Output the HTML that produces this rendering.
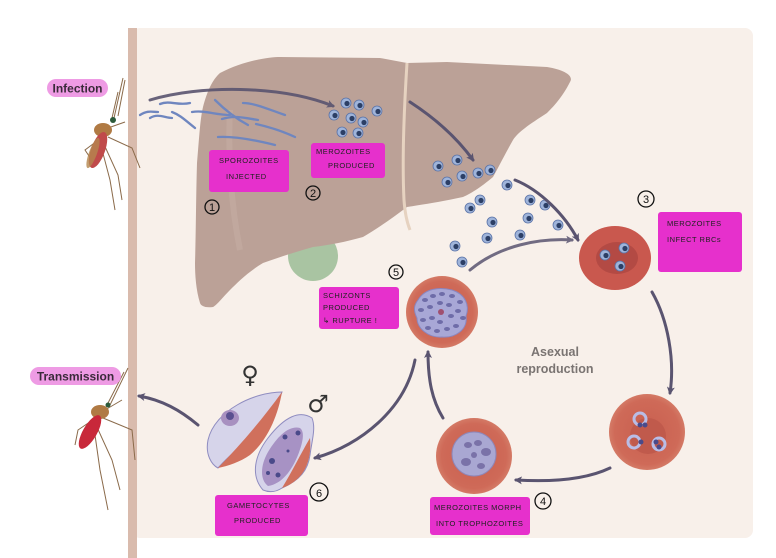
<!DOCTYPE html>
<html><head><meta charset="utf-8"><style>
html,body{margin:0;padding:0;background:#fff;}
svg{display:block;}
.lb{font-family:"Liberation Sans",sans-serif;font-size:7.5px;fill:#222;letter-spacing:0.5px;}
.nm{font-family:"Liberation Sans",sans-serif;font-size:11px;fill:#111;text-anchor:middle;}
</style></head><body>
<svg width="776" height="558" viewBox="0 0 776 558" xmlns="http://www.w3.org/2000/svg">
<defs>
<marker id="ah" markerWidth="8" markerHeight="8" refX="6" refY="4" orient="auto" markerUnits="userSpaceOnUse"><path d="M0,0 L8,4 L0,8 L2,4 Z" fill="#5a5470"/></marker>
<radialGradient id="rbc" cx="50%" cy="50%" r="50%"><stop offset="0" stop-color="#c85f4f"/><stop offset="0.85" stop-color="#cf6a58"/><stop offset="1" stop-color="#d47a66"/></radialGradient>
<g id="mz"><circle r="5" fill="#9fb4da" stroke="#5a73a8" stroke-width="0.8"/><circle cx="1" cy="0.5" r="2.6" fill="#2c3f66"/></g>
</defs>
<rect x="0" y="0" width="776" height="558" fill="#fff"/>
<rect x="132" y="28" width="621" height="510" rx="8" fill="#f8f0ea"/>
<rect x="128" y="28" width="9" height="530" fill="#d9bbad"/>

<!-- liver -->
<circle cx="313" cy="256" r="25" fill="#a9c4a2"/>
<path d="M220,73 C245,60 270,57 280,57 L380,58 L407,63 L447,62 L547,67 C565,70 574,76 570,82 C562,98 552,108 547,113 C530,124 518,132 513,140 C504,156 498,168 493,177 C480,188 470,194 463,197 C440,202 420,205 407,207 C390,220 375,230 363,237 C345,242 330,245 313,247 C295,252 280,257 263,263 C248,272 238,282 230,290 C222,298 217,305 213,307 C205,308 201,306 200,303 C196,290 195,275 195,263 C196,230 196,195 197,163 C199,140 200,120 203,107 C207,92 212,80 220,73 Z" fill="#bba197"/>
<path d="M407,63 C404,110 402,160 404,200 C405,215 408,225 410,230" fill="none" stroke="#e6d2c0" stroke-width="3"/>
<path d="M230,110 C228,150 230,200 240,250" fill="none" stroke="#c7afa5" stroke-width="6" opacity="0.5"/>

<!-- mosquito top -->
<g stroke="#8a6a4a" stroke-width="1" fill="none">
<path d="M112,118 L118,92 M114,118 L123,78 M118,116 L125,80"/>
<path d="M105,135 L85,150 L95,165"/>
<path d="M108,137 L132,148 L140,168"/>
<path d="M102,140 L118,175 L122,200"/>
<path d="M100,142 L110,180 L115,210"/>
<path d="M108,128 L125,122"/>
</g>
<ellipse cx="103" cy="130" rx="9" ry="7" fill="#b07a44"/>
<ellipse cx="98" cy="150" rx="7" ry="19" transform="rotate(20 98 150)" fill="#c04a4a"/>
<ellipse cx="93" cy="153" rx="4" ry="16" transform="rotate(20 93 153)" fill="#b4864e" opacity="0.8"/>
<circle cx="113" cy="120" r="3" fill="#2c5a3a"/>
<rect x="47" y="79" width="61" height="18" rx="9" fill="#ee9be4"/>
<text x="77.5" y="92.5" text-anchor="middle" font-family="Liberation Sans,sans-serif" font-size="12" font-weight="bold" fill="#3a2a3a">Infection</text>

<!-- mosquito bottom -->
<g stroke="#8a6a4a" stroke-width="1" fill="none">
<path d="M107,405 L124,372 M110,405 L128,368"/>
<path d="M100,415 L78,430 L75,445"/>
<path d="M103,418 L132,430 L135,460"/>
<path d="M96,425 L112,460 L120,490"/>
<path d="M94,428 L100,470 L108,510"/>
<path d="M105,410 L122,400"/>
</g>
<ellipse cx="100" cy="412" rx="9" ry="7" fill="#b07a44"/>
<ellipse cx="90" cy="432" rx="7" ry="19" transform="rotate(30 90 432)" fill="#c8283a"/>
<circle cx="108" cy="405" r="2.5" fill="#2c5a3a"/>
<rect x="30" y="367" width="91" height="18" rx="9" fill="#ee9be4"/>
<text x="75.5" y="380.5" text-anchor="middle" font-family="Liberation Sans,sans-serif" font-size="12" font-weight="bold" fill="#3a2a3a">Transmission</text>

<!-- sporozoites -->
<g stroke="#6f86bf" stroke-width="2.3" fill="none" stroke-linecap="round">
<path d="M140,115 C148,110 152,112 158,112"/>
<path d="M150,118 C158,113 165,118 172,118"/>
<path d="M160,104 C170,100 178,106 190,103"/>
<path d="M172,112 C180,115 185,120 195,128"/>
<path d="M192,112 C205,110 215,115 230,115"/>
<path d="M215,100 C225,110 235,118 248,125"/>
<path d="M222,119 C235,115 245,118 258,120"/>
<path d="M243,103 C255,103 270,110 285,115"/>
<path d="M256,124 C265,126 280,130 295,137"/>
<path d="M218,137 C235,136 255,140 275,145"/>
</g>
<!-- merozoites -->
<use href="#mz" x="346" y="103"/><use href="#mz" x="359" y="105"/><use href="#mz" x="334" y="115"/><use href="#mz" x="351" y="118"/><use href="#mz" x="363" y="122"/><use href="#mz" x="342" y="132"/><use href="#mz" x="358" y="133"/><use href="#mz" x="377" y="111"/>
<use href="#mz" x="438" y="166"/><use href="#mz" x="457" y="160"/><use href="#mz" x="462" y="176"/><use href="#mz" x="447" y="182"/><use href="#mz" x="478" y="173"/><use href="#mz" x="490" y="170"/>
<use href="#mz" x="507" y="185"/><use href="#mz" x="480" y="200"/><use href="#mz" x="470" y="208"/><use href="#mz" x="530" y="200"/><use href="#mz" x="545" y="205"/><use href="#mz" x="528" y="218"/><use href="#mz" x="520" y="235"/><use href="#mz" x="558" y="225"/><use href="#mz" x="487" y="238"/><use href="#mz" x="455" y="246"/><use href="#mz" x="462" y="262"/><use href="#mz" x="492" y="222"/>

<!-- arrows -->
<g stroke="#5a5470" stroke-width="3" fill="none" stroke-linecap="round">
<path d="M150,100 C200,85 280,85 333,106" marker-end="url(#ah)" opacity="0.9"/>
<path d="M410,102 C430,115 455,135 473,160" marker-end="url(#ah)"/>
<path d="M515,180 C540,190 565,215 578,240" marker-end="url(#ah)"/>
<path d="M470,270 C500,245 540,238 572,240" marker-end="url(#ah)" opacity="0.85"/>
<path d="M652,292 C668,320 675,360 670,393" marker-end="url(#ah)"/>
<path d="M610,468 C585,480 550,482 516,480" marker-end="url(#ah)"/>
<path d="M443,418 C432,400 428,380 428,352" marker-end="url(#ah)"/>
<path d="M415,360 C405,410 360,445 315,458" marker-end="url(#ah)"/>
<path d="M198,425 C180,410 162,400 139,396" marker-end="url(#ah)"/>
</g>

<!-- RBC 3 -->
<ellipse cx="615" cy="258" rx="36" ry="32" fill="#c9584e"/>
<ellipse cx="617" cy="258" rx="21" ry="16" fill="#b34a44"/>
<use href="#mz" x="624" y="248"/><use href="#mz" x="605" y="255"/><use href="#mz" x="620" y="266"/>
<!-- RBC rings -->
<circle cx="647" cy="432" r="38" fill="url(#rbc)"/>
<circle cx="648" cy="436" r="18" fill="#c05a4c"/>
<g fill="none" stroke="#b9bde6" stroke-width="3"><circle cx="640" cy="419" r="6"/><circle cx="634" cy="442" r="6"/><circle cx="659" cy="444" r="6"/></g>
<g fill="#4a4a8a"><circle cx="640" cy="425" r="2.5"/><circle cx="645" cy="425" r="2.5"/><circle cx="641" cy="442" r="2.5"/><circle cx="656" cy="442" r="2.5"/><circle cx="659" cy="447" r="2.5"/></g>
<!-- RBC 4 -->
<circle cx="474" cy="456" r="38" fill="url(#rbc)"/>
<circle cx="474" cy="454" r="22" fill="#a9a7d2" stroke="#8e86b8"/>
<g fill="#7a72a8"><ellipse cx="468" cy="445" rx="4" ry="3"/><ellipse cx="478" cy="443" rx="4" ry="3"/><ellipse cx="486" cy="452" rx="5" ry="4"/><ellipse cx="466" cy="462" rx="5" ry="4"/><ellipse cx="481" cy="466" rx="4" ry="3"/><ellipse cx="474" cy="455" rx="3" ry="3"/></g>
<!-- RBC 5 -->
<circle cx="442" cy="312" r="36" fill="url(#rbc)"/>
<path d="M418,300 C425,288 440,287 452,290 C465,294 470,305 466,316 C468,330 455,338 442,337 C428,338 417,328 417,318 C413,310 414,305 418,300 Z" fill="#a8a7d6" stroke="#8a86c0"/>
<g fill="#6e6ca8">
<ellipse cx="425" cy="300" rx="3" ry="2"/><ellipse cx="433" cy="296" rx="3" ry="2"/><ellipse cx="442" cy="294" rx="3" ry="2"/><ellipse cx="452" cy="296" rx="3" ry="2"/><ellipse cx="460" cy="302" rx="3" ry="2"/>
<ellipse cx="421" cy="310" rx="3" ry="2"/><ellipse cx="430" cy="307" rx="3" ry="2"/><ellipse cx="449" cy="305" rx="3" ry="2"/><ellipse cx="458" cy="311" rx="3" ry="2"/><ellipse cx="463" cy="318" rx="3" ry="2"/>
<ellipse cx="423" cy="320" rx="3" ry="2"/><ellipse cx="432" cy="318" rx="3" ry="2"/><ellipse cx="451" cy="316" rx="3" ry="2"/><ellipse cx="440" cy="322" rx="3" ry="2"/>
<ellipse cx="428" cy="328" rx="3" ry="2"/><ellipse cx="437" cy="331" rx="3" ry="2"/><ellipse cx="447" cy="329" rx="3" ry="2"/><ellipse cx="456" cy="326" rx="3" ry="2"/><ellipse cx="440" cy="303" rx="3" ry="2"/>
</g>
<circle cx="441" cy="312" r="3" fill="#a05070"/>

<!-- gametocytes -->
<path d="M282,392 C255,392 215,410 208,440 C205,455 212,465 218,468 C238,445 265,430 275,410 Z" fill="#d6d4ea" stroke="#8f8cc0"/>
<path d="M282,392 C278,415 268,440 250,455 C240,462 228,466 218,468 C240,445 262,420 282,392 Z" fill="#d0705c"/>
<ellipse cx="230" cy="418" rx="9" ry="8" fill="#a890c0"/><circle cx="230" cy="416" r="4" fill="#5a5090"/>
<path d="M312,418 C300,410 285,416 268,438 C255,455 250,475 263,490 C270,493 276,492 282,488 C300,480 308,470 310,455 C312,440 316,428 312,418 Z" fill="#d6d4ea" stroke="#8f8cc0"/>
<path d="M310,438 C312,460 305,480 282,488 C293,470 300,455 310,438 Z" fill="#d0705c"/>
<path d="M300,428 C290,425 278,435 268,452 C260,466 260,480 268,486 C282,484 292,470 298,455 C303,442 305,432 300,428 Z" fill="#a792c4"/>
<g fill="#4a4a8a"><circle cx="285" cy="437" r="2.5"/><circle cx="298" cy="433" r="2.5"/><circle cx="272" cy="461" r="3"/><circle cx="268" cy="473" r="2"/><circle cx="288" cy="451" r="1.5"/><circle cx="278" cy="475" r="2.5"/></g>
<text x="250" y="383" text-anchor="middle" font-family="DejaVu Sans,sans-serif" font-size="24" fill="#333">♀</text>
<text x="318" y="412" text-anchor="middle" font-family="DejaVu Sans,sans-serif" font-size="24" fill="#333">♂</text>

<text x="555" y="356" text-anchor="middle" font-family="Liberation Sans,sans-serif" font-size="12.5" font-weight="bold" fill="#7a7472">Asexual</text>
<text x="555" y="373" text-anchor="middle" font-family="Liberation Sans,sans-serif" font-size="12.5" font-weight="bold" fill="#7a7472">reproduction</text>

<!-- labels -->
<g fill="#e630cc">
<rect x="209" y="150" width="80" height="42" rx="3"/>
<rect x="311" y="143" width="74" height="35" rx="3"/>
<rect x="658" y="212" width="84" height="60" rx="3"/>
<rect x="430" y="497" width="100" height="38" rx="3"/>
<rect x="319" y="287" width="80" height="42" rx="3"/>
<rect x="215" y="495" width="93" height="41" rx="3"/>
</g>
<text class="lb" x="219" y="163">SPOROZOITES</text><text class="lb" x="226" y="179">INJECTED</text>
<text class="lb" x="316" y="154">MEROZOITES</text><text class="lb" x="328" y="168">PRODUCED</text>
<text class="lb" x="667" y="226">MEROZOITES</text><text class="lb" x="667" y="242">INFECT  RBCs</text>
<text class="lb" x="434" y="510">MEROZOITES MORPH</text><text class="lb" x="436" y="526">INTO TROPHOZOITES</text>
<text class="lb" x="323" y="298">SCHIZONTS</text><text class="lb" x="323" y="310">PRODUCED</text><text class="lb" x="323" y="323">↳ RUPTURE !</text>
<text class="lb" x="227" y="508">GAMETOCYTES</text><text class="lb" x="234" y="523">PRODUCED</text>

<g fill="none" stroke="#111" stroke-width="1.3">
<circle cx="212" cy="207" r="7"/><circle cx="313" cy="193" r="7"/><circle cx="646" cy="199" r="8"/><circle cx="543" cy="501" r="8"/><circle cx="396" cy="272" r="7"/><circle cx="319" cy="492" r="9"/>
</g>
<text class="nm" x="212" y="211">1</text><text class="nm" x="313" y="197">2</text><text class="nm" x="646" y="203">3</text><text class="nm" x="543" y="505">4</text><text class="nm" x="396" y="276">5</text><text class="nm" x="319" y="497" font-size="13">6</text>
</svg>
</body></html>
